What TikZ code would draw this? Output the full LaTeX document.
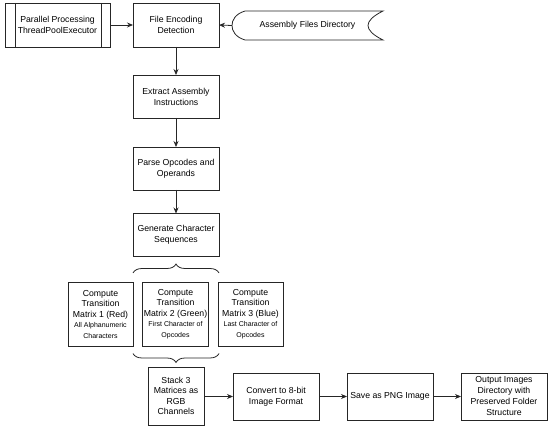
\documentclass[tikz,border=0pt]{standalone}
\usepackage{fontspec}
\setmainfont{Liberation Sans}
\usetikzlibrary{arrows.meta,decorations.pathreplacing,calc}
\begin{document}
\begin{tikzpicture}[x=1pt,y=-1pt,
  every node/.style={inner sep=1pt,outer sep=0pt},
  box/.style={draw=black!85,line width=0.8pt,fill=white,align=center,
    font=\fontsize{8.7}{11}\selectfont},
  link/.style={draw=black!85,line width=0.8pt,-{Stealth[length=6pt,width=5pt]}},
  bracefx/.style={draw=black!85,line width=0.8pt,decorate,
    decoration={brace,amplitude=9pt}},
  sm/.style={}
]
\useasboundingbox (0,0) rectangle (550,428);

% top row
\node[box,minimum width=105pt,minimum height=44pt] (para) at (57.5,25)
  {Parallel Processing\\ThreadPoolExecutor};
\draw[black!85,line width=0.8pt] ([xshift=10pt]para.north west) -- ([xshift=10pt]para.south west);
\draw[black!85,line width=0.8pt] ([xshift=-9pt]para.north east) -- ([xshift=-9pt]para.south east);

\node[box,minimum width=86pt,minimum height=44pt] (fed) at (176,25)
  {File Encoding\\Detection};

\node[align=center,font=\fontsize{8.7}{11}\selectfont,minimum width=151pt,minimum height=29pt] (asm) at (307.5,25.5)
  {Assembly Files Directory};
\draw[black!85,line width=0.8pt]
  ([xshift=13pt]asm.north west) -- (asm.north east)
  .. controls +(-20,10) and +(-20,-10) .. (asm.south east)
  -- ([xshift=13pt]asm.south west)
  .. controls +(-10,-3) and +(0,5) .. (asm.west)
  .. controls +(0,-5) and +(-10,3) .. ([xshift=13pt]asm.north west) -- cycle;

% vertical chain
\node[box,minimum width=86pt,minimum height=43pt] (ext) at (176,96.5)
  {Extract Assembly\\Instructions};
\node[box,minimum width=86pt,minimum height=43pt] (pop) at (176,168.5)
  {Parse Opcodes and\\Operands};
\node[box,minimum width=86pt,minimum height=43pt] (gen) at (176,235)
  {Generate Character\\Sequences};

% matrices
\node[box,minimum width=65pt,minimum height=64pt,font=\fontsize{8.7}{10.5}\selectfont] (m1) at (100.5,314)
  {Compute\\Transition\\Matrix 1 (Red)\\{\fontsize{7}{10}\selectfont All Alphanumeric}\\{\fontsize{7}{10}\selectfont Characters}};
\node[box,minimum width=65pt,minimum height=64pt,font=\fontsize{8.7}{10.5}\selectfont] (m2) at (175.5,314)
  {Compute\\Transition\\Matrix 2 (Green)\\{\fontsize{7}{10}\selectfont First Character of}\\{\fontsize{7}{10}\selectfont Opcodes}};
\node[box,minimum width=65pt,minimum height=64pt,font=\fontsize{8.7}{10.5}\selectfont] (m3) at (250.5,314)
  {Compute\\Transition\\Matrix 3 (Blue)\\{\fontsize{7}{10}\selectfont Last Character of}\\{\fontsize{7}{10}\selectfont Opcodes}};

% bottom row
\node[box,minimum width=56pt,minimum height=58pt,font=\fontsize{8.7}{10.3}\selectfont] (stk) at (176,396)
  {Stack 3\\Matrices as\\RGB\\Channels};
\node[box,minimum width=86pt,minimum height=47pt] (cnv) at (276,396.5)
  {Convert to 8-bit\\Image Format};
\node[box,minimum width=86pt,minimum height=47pt] (sav) at (390,396.5)
  {Save as PNG Image};
\node[box,minimum width=86pt,minimum height=47pt] (out) at (504,396.5)
  {Output Images\\Directory with\\Preserved Folder\\Structure};

% braces
\coordinate (ba1) at (133,273);
\coordinate (ba2) at (219,273);
\coordinate (bb1) at (219,353.5);
\coordinate (bb2) at (133,353.5);
\draw[bracefx] (ba1) -- (ba2);
\draw[bracefx] (bb1) -- (bb2);

% connectors
\draw[link] (para.east) -- (fed.west);
\draw[link] (asm.west) -- (fed.east);
\draw[link] (fed.south) -- (ext.north);
\draw[link] (ext.south) -- (pop.north);
\draw[link] (pop.south) -- (gen.north);
\draw[link] (stk.east |- cnv.west) -- (cnv.west);
\draw[link] (cnv.east) -- (sav.west);
\draw[link] (sav.east) -- (out.west);
\end{tikzpicture}
\end{document}
